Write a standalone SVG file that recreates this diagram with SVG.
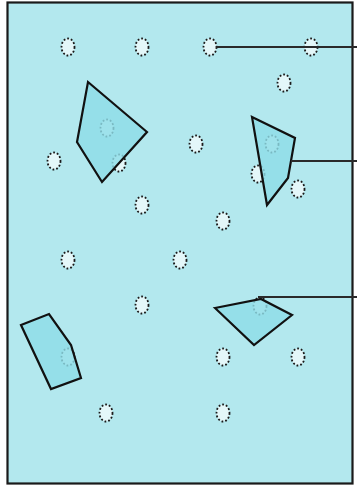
<svg xmlns="http://www.w3.org/2000/svg" width="357" height="486" viewBox="0 0 357 486">
<style>
.frame{fill:#b3e8ee;stroke:#1a1a1a;stroke-width:2.2}
.dot{fill:#e4f7f9;stroke:#1a1a1a;stroke-width:1.8;stroke-dasharray:1.8 2}
.poly{fill:#8fdde8;fill-opacity:0.82;stroke:#111;stroke-width:2.2;stroke-linejoin:miter}
.conn{stroke:#2a2a2a;stroke-width:2.2;fill:none}
</style>
<rect id="frame" class="frame" x="7.5" y="2.5" width="345" height="481"/>
<g id="dots">
<ellipse id="d1" class="dot" cx="68" cy="47" rx="6.5" ry="8.5"/>
<ellipse id="d2" class="dot" cx="142" cy="47" rx="6.5" ry="8.5"/>
<ellipse id="d3" class="dot" cx="210" cy="47" rx="6.5" ry="8.5"/>
<ellipse id="d4" class="dot" cx="311" cy="47" rx="6.5" ry="8.5"/>
<ellipse id="d5" class="dot" cx="284" cy="83" rx="6.5" ry="8.5"/>
<ellipse id="d6" class="dot" cx="107" cy="128" rx="6.5" ry="8.5"/>
<ellipse id="d7" class="dot" cx="196" cy="144" rx="6.5" ry="8.5"/>
<ellipse id="d8" class="dot" cx="272" cy="144" rx="6.5" ry="8.5"/>
<ellipse id="d9" class="dot" cx="54" cy="161" rx="6.5" ry="8.5"/>
<ellipse id="d10" class="dot" cx="119" cy="163" rx="6.5" ry="8.5"/>
<ellipse id="d11" class="dot" cx="258" cy="174" rx="6.5" ry="8.5"/>
<ellipse id="d12" class="dot" cx="298" cy="189" rx="6.5" ry="8.5"/>
<ellipse id="d13" class="dot" cx="142" cy="205" rx="6.5" ry="8.5"/>
<ellipse id="d14" class="dot" cx="223" cy="221" rx="6.5" ry="8.5"/>
<ellipse id="d15" class="dot" cx="68" cy="260" rx="6.5" ry="8.5"/>
<ellipse id="d16" class="dot" cx="180" cy="260" rx="6.5" ry="8.5"/>
<ellipse id="d17" class="dot" cx="142" cy="305" rx="6.5" ry="8.5"/>
<ellipse id="d18" class="dot" cx="260" cy="306" rx="6.5" ry="8.5"/>
<ellipse id="d19" class="dot" cx="68" cy="357" rx="6.5" ry="8.5"/>
<ellipse id="d20" class="dot" cx="223" cy="357" rx="6.5" ry="8.5"/>
<ellipse id="d21" class="dot" cx="298" cy="357" rx="6.5" ry="8.5"/>
<ellipse id="d22" class="dot" cx="106" cy="413" rx="6.5" ry="8.5"/>
<ellipse id="d23" class="dot" cx="223" cy="413" rx="6.5" ry="8.5"/>
</g>
<g id="p1"><polygon class="poly" points="88,82 147,132 102,182 77,142"/></g>
<g id="p2"><polygon class="poly" points="252,117 295,138 288,178 267,205"/></g>
<g id="p3"><polygon class="poly" points="215,308 261,299 292,315 254,345"/></g>
<g id="p4"><polygon class="poly" points="21,325 49,314 71,345 81,378 51,389"/></g>
<g id="connectors">
<line class="conn" x1="216" y1="47" x2="357" y2="47"/>
<line class="conn" x1="291" y1="161" x2="357" y2="161"/>
<line class="conn" x1="258" y1="297" x2="357" y2="297"/>
</g>
</svg>
